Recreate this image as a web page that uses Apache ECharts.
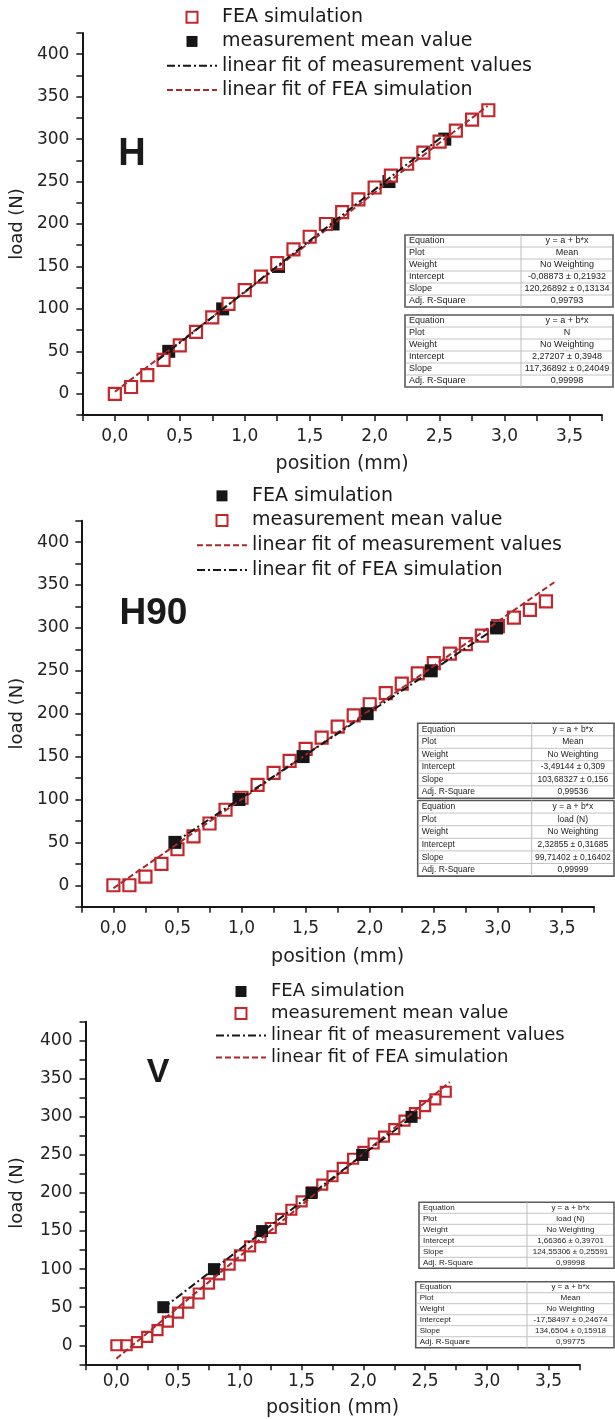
<!DOCTYPE html>
<html><head><meta charset="utf-8">
<script src="https://cdn.jsdelivr.net/npm/echarts@6/dist/echarts.min.js"></script>
<style>html,body{margin:0;padding:0;background:#fff}#c{width:615px;height:1419px}</style>
</head><body><div id="c"></div>
<script>
// ---------- Panel H ----------
const hFeaX = [0,0.125,0.25,0.375,0.5,0.625,0.75,0.875,1.0,1.125,1.25,1.375,1.5,1.625,1.75,1.875,2.0,2.125,2.25,2.375,2.5,2.625,2.75,2.875];
const hFeaY = [0,8,22,40,57,73,90,106,122,138,154,170,185,200,214,229,243,257,271,284,297,310,323,334];
const hMeasX = [0.415,0.83,1.26,1.68,2.11,2.54];
const hMeasY = [50,100,150,200,250,300];
const hFitMeas = [[0.33,39.6],[2.55,306.6]];   // y = -0,08873 + 120,26892 x
const hFitFea = [[0,2.3],[2.87,339.1]];        // y = 2,27207 + 117,36892 x
// ---------- Panel H90 ----------
const h90MeasX = [0,0.125,0.25,0.375,0.5,0.625,0.75,0.875,1.0,1.125,1.25,1.375,1.5,1.625,1.75,1.875,2.0,2.125,2.25,2.375,2.5,2.625,2.75,2.875,3.0,3.125,3.25,3.375];
const h90MeasY = [0,0,10,25,42,57,72,88,102,117,131,145,159,172,185,198,211,224,235,247,259,270,281,291,302,312,321,331];
const h90FeaX = [0.48,0.98,1.48,1.98,2.48,2.99];
const h90FeaY = [50,100,150,200,250,300];
const h90FitMeas = [[0,-3.5],[3.44,353.2]];    // y = -3,49144 + 103,68327 x
const h90FitFea = [[0.48,50.2],[3.0,301.5]];   // y = 2,32855 + 99,71402 x
// ---------- Panel V ----------
const vMeasX = [0,0.083,0.167,0.25,0.333,0.417,0.5,0.583,0.667,0.75,0.833,0.917,1.0,1.083,1.167,1.25,1.333,1.417,1.5,1.583,1.667,1.75,1.833,1.917,2.0,2.083,2.167,2.25,2.333,2.417,2.5,2.583,2.667];
const vMeasY = [0,0,4,11,20,31,43,56,68,81,93,106,118,130,142,154,166,178,189,201,211,222,233,245,254,265,274,284,295,305,314,323,333];
const vFeaX = [0.38,0.79,1.18,1.58,1.99,2.39];
const vFeaY = [50,100,150,200,250,300];
const vFitMeas = [[0.38,49.0],[2.4,300.6]];    // y = 1,66366 + 124,55306 x
const vFitFea = [[0,-17.6],[2.7,345.9]];       // y = -17,58497 + 134,6504 x

// ---------- Tables ----------
const tblLabels = ['Equation','Plot','Weight','Intercept','Slope','Adj. R-Square'];
const hT1 = ['y = a + b*x','Mean','No Weighting','-0,08873 ± 0,21932','120,26892 ± 0,13134','0,99793'];
const hT2 = ['y = a + b*x','N','No Weighting','2,27207 ± 0,3948','117,36892 ± 0,24049','0,99998'];
const h90T1 = ['y = a + b*x','Mean','No Weighting','-3,49144 ± 0,309','103,68327 ± 0,156','0,99536'];
const h90T2 = ['y = a + b*x','load (N)','No Weighting','2,32855 ± 0,31685','99,71402 ± 0,16402','0,99999'];
const vT1 = ['y = a + b*x','load (N)','No Weighting','1,66366 ± 0,39701','124,55306 ± 0,25591','0,99998'];
const vT2 = ['y = a + b*x','Mean','No Weighting','-17,58497 ± 0,24674','134,6504 ± 0,15918','0,99775'];

const xTicks = ['0,0','0,5','1,0','1,5','2,0','2,5','3,0','3,5'];

const RED = '#c4262b', DRED = '#a8282b', BLK = '#161616';
const SQ = 'path://M0 0H10V10H0Z';
const zip = (a,b) => a.map((v,i)=>[v,b[i]]);
const near = (v,s) => Math.abs(v/s - Math.round(v/s)) < 1e-6;

function xAx(gi, margin, nameGap, fs){
  return {type:'value', gridIndex:gi, min:-0.25, max:3.75, interval:0.25,
    axisLine:{show:true, onZero:false, lineStyle:{color:BLK, width:2}},
    axisTick:{show:true, length:6, lineStyle:{color:BLK, width:1.5}},
    axisLabel:{margin, fontFamily:'DejaVu Sans', fontSize:fs, color:'#222',
      formatter: v => (near(v,0.5) && v>=0 && v<=3.5) ? xTicks[Math.round(v/0.5)] : ''},
    splitLine:{show:false},
    name:'position (mm)', nameLocation:'middle', nameGap,
    nameTextStyle:{fontFamily:'DejaVu Sans', fontSize:19, color:'#222'}};
}
function yAx(gi, margin, nameGap, fs){
  return {type:'value', gridIndex:gi, min:-25, max:425, interval:25,
    axisLine:{show:true, onZero:false, lineStyle:{color:BLK, width:2}},
    axisTick:{show:true, length:6, lineStyle:{color:BLK, width:1.5}},
    axisLabel:{margin, fontFamily:'DejaVu Sans', fontSize:fs, color:'#222',
      formatter: v => (near(v,50) && v>=0 && v<=400) ? String(Math.round(v)) : ''},
    splitLine:{show:false},
    name:'load (N)', nameLocation:'middle', nameGap,
    nameTextStyle:{fontFamily:'DejaVu Sans', fontSize:18, color:'#222'}};
}
const dashDot = [8,3,2,3], dashed = [6,3];
function openSq(name, gi, data, size, z){
  return {type:'scatter', name, xAxisIndex:gi, yAxisIndex:gi, data, symbol:'rect', symbolSize:size,
    itemStyle:{color:'#fff', borderColor:RED, borderWidth:2.2, opacity:1}, z};
}
function fillSq(name, gi, data, size, z){
  return {type:'scatter', name, xAxisIndex:gi, yAxisIndex:gi, data, symbol:'rect', symbolSize:size,
    itemStyle:{color:BLK, opacity:1}, z};
}
function fitLine(name, gi, data, color, type){
  return {type:'line', name, xAxisIndex:gi, yAxisIndex:gi, data, symbol:'none', showSymbol:false,
    lineStyle:{color, width:2, type}, z:5};
}
const legOpen = n => ({name:n, icon:SQ, itemStyle:{color:'#fff', borderColor:RED, borderWidth:2, opacity:1}});
const legFill = n => ({name:n, icon:SQ, itemStyle:{color:BLK, borderWidth:0, opacity:1}});
const legLine = (n,color,type) => ({name:n, itemStyle:{opacity:0}, lineStyle:{color, width:2, type}});
function legend(left, top, lh, fs, data){
  return {orient:'vertical', left, top, padding:0, itemGap:0, itemWidth:50, itemHeight:11,
    symbolKeepAspect:true, selectedMode:false, formatter: n => n.split('|')[1],
    textStyle:{fontFamily:'DejaVu Sans', fontSize:fs, lineHeight:lh, color:'#1a1a1a'}, data};
}
function table(left, top, right, colX, rowH, values, fs){
  const els = [], h = rowH*tblLabels.length;
  els.push({type:'rect', shape:{x:left,y:top,width:right-left,height:h}, style:{fill:'#fff', stroke:'#5a5a5a', lineWidth:1.6}, z:10});
  for(let i=1;i<tblLabels.length;i++){
    els.push({type:'line', shape:{x1:left+1,y1:top+i*rowH,x2:right-1,y2:top+i*rowH}, style:{stroke:'#c4c4c4', lineWidth:1}, z:11});
  }
  els.push({type:'line', shape:{x1:colX,y1:top,x2:colX,y2:top+h}, style:{stroke:'#bdbdbd', lineWidth:1}, z:11});
  tblLabels.forEach((t,i)=>{
    els.push({type:'text', x:left+4, y:top+(i+0.5)*rowH, z:12,
      style:{text:t, font:fs+'px "Liberation Sans", Arial, sans-serif', fill:'#222', textAlign:'left', textVerticalAlign:'middle'}});
    els.push({type:'text', x:(colX+right)/2, y:top+(i+0.5)*rowH, z:12,
      style:{text:values[i], font:fs+'px "Liberation Sans", Arial, sans-serif', fill:'#222', textAlign:'center', textVerticalAlign:'middle'}});
  });
  return els;
}
function bigLabel(text, x, y, fs){
  return {type:'text', x, y, z:12, style:{text, font:'bold '+fs+'px "Liberation Sans", Arial, sans-serif', fill:'#1a1a1a', textAlign:'center', textVerticalAlign:'middle'}};
}

const option = {
  animation:false,
  backgroundColor:'#fff',
  grid:[
    {left:80, top:33, width:522, height:382},
    {left:74.5, top:520.7, width:519.5, height:386},
    {left:85.5, top:1021.7, width:494, height:342.6}
  ],
  xAxis:[xAx(0,13,40,17), xAx(1,13,41,17), xAx(2,9,34,17)],
  yAxis:[yAx(0,13,53,17), yAx(1,12,48,17), yAx(2,13,59,17)],
  legend:[
    legend(166, 5, 24.3, 19, [legOpen('H|FEA simulation'), legFill('H|measurement mean value'),
      legLine('H|linear fit of measurement values', BLK, dashDot), legLine('H|linear fit of FEA simulation', DRED, dashed)]),
    legend(196, 483.5, 24.7, 19, [legFill('H90|FEA simulation'), legOpen('H90|measurement mean value'),
      legLine('H90|linear fit of measurement values', DRED, dashed), legLine('H90|linear fit of FEA simulation', BLK, dashDot)]),
    legend(215, 980.5, 22, 18, [legFill('V|FEA simulation'), legOpen('V|measurement mean value'),
      legLine('V|linear fit of measurement values', BLK, dashDot), legLine('V|linear fit of FEA simulation', DRED, dashed)])
  ],
  series:[
    fillSq('H|measurement mean value', 0, zip(hMeasX,hMeasY), 13, 2),
    openSq('H|FEA simulation', 0, zip(hFeaX,hFeaY), 12, 3),
    fitLine('H|linear fit of FEA simulation', 0, hFitFea, DRED, dashed),
    fitLine('H|linear fit of measurement values', 0, hFitMeas, BLK, dashDot),

    openSq('H90|measurement mean value', 1, zip(h90MeasX,h90MeasY), 12, 2),
    fillSq('H90|FEA simulation', 1, zip(h90FeaX,h90FeaY), 13, 3),
    fitLine('H90|linear fit of measurement values', 1, h90FitMeas, DRED, dashed),
    fitLine('H90|linear fit of FEA simulation', 1, h90FitFea, BLK, dashDot),

    openSq('V|measurement mean value', 2, zip(vMeasX,vMeasY), 10, 2),
    fillSq('V|FEA simulation', 2, zip(vFeaX,vFeaY), 12, 3),
    fitLine('V|linear fit of FEA simulation', 2, vFitFea, DRED, dashed),
    fitLine('V|linear fit of measurement values', 2, vFitMeas, BLK, dashDot)
  ],
  graphic:{elements:[
    bigLabel('H', 132, 155, 38),
    bigLabel('H90', 153.5, 614, 37),
    bigLabel('V', 158, 1073, 34),
    ...table(405, 235, 613, 521, 12, hT1, 9),
    ...table(405, 315, 613, 521, 12, hT2, 9),
    ...table(417.7, 723.3, 614, 531.7, 12.5, h90T1, 8.5),
    ...table(417.7, 800.5, 614, 531.7, 12.6, h90T2, 8.5),
    ...table(419, 1202.3, 614, 527, 11, vT1, 8),
    ...table(415.7, 1281.7, 614, 527, 11, vT2, 8)
  ]}
};
const chart = echarts.init(document.getElementById('c'), null, {renderer:'canvas'});
chart.setOption(option);
</script></body></html>
